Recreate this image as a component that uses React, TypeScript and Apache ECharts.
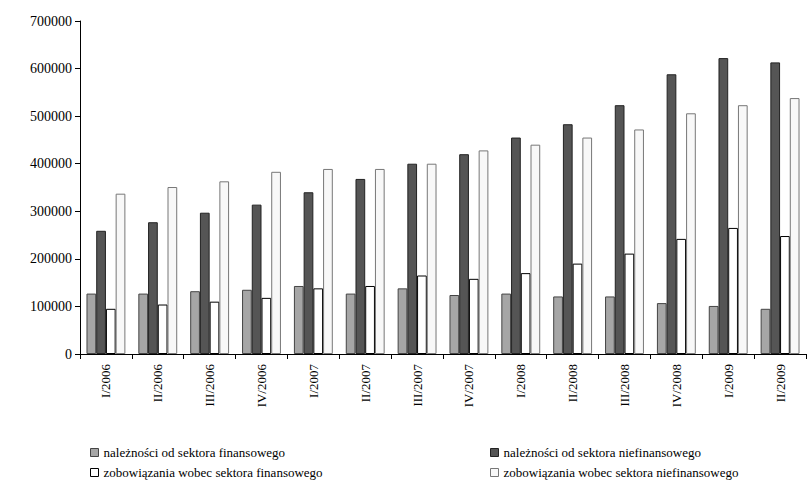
import React, { useRef, useEffect } from 'react'
import * as echarts from 'echarts'

const categories = ['I/2006', 'II/2006', 'III/2006', 'IV/2006', 'I/2007', 'II/2007', 'III/2007', 'IV/2007', 'I/2008', 'II/2008', 'III/2008', 'IV/2008', 'I/2009', 'II/2009']
const finReceivables = [127000, 127000, 132000, 135000, 143000, 127000, 138000, 124000, 127000, 121000, 121000, 107000, 101000, 95000]
const nonfinReceivables = [259000, 277000, 297000, 314000, 340000, 368000, 400000, 420000, 455000, 483000, 523000, 588000, 622000, 613000]
const finLiabilities = [95000, 104000, 110000, 118000, 138000, 143000, 165000, 158000, 170000, 190000, 211000, 242000, 265000, 248000]
const nonfinLiabilities = [337000, 351000, 363000, 383000, 389000, 389000, 400000, 428000, 440000, 455000, 472000, 506000, 523000, 538000]

const names = [
  'należności od sektora finansowego',
  'należności od sektora niefinansowego',
  'zobowiązania wobec sektora finansowego',
  'zobowiązania wobec sektora niefinansowego'
]

const font = '"Liberation Serif", "Times New Roman", serif'

const App: React.FC = () => {
  const chartRef = useRef<HTMLDivElement>(null)

  useEffect(() => {
    if (!chartRef.current) return
    const chart = echarts.init(chartRef.current, undefined, { renderer: 'svg' })
    const styles = [
      { color: '#a6a6a6', borderColor: '#444', borderWidth: 1 },
      { color: '#555555', borderColor: '#222', borderWidth: 1 },
      { color: '#ffffff', borderColor: '#000', borderWidth: 1 },
      { color: '#f8f8f8', borderColor: '#777', borderWidth: 1 }
    ]
    const data = [finReceivables, nonfinReceivables, finLiabilities, nonfinLiabilities]
    const legendPos = [
      { left: 85, top: 441 },
      { left: 485, top: 441 },
      { left: 85, top: 461 },
      { left: 485, top: 461 }
    ]
    chart.setOption({
      animation: false,
      textStyle: { fontFamily: font },
      grid: { left: 80, right: 1, top: 21, bottom: 130 },
      legend: legendPos.map((p, i) => ({
        ...p,
        data: [names[i]],
        itemWidth: 8,
        itemHeight: 8,
        icon: 'rect',
        itemStyle: { borderWidth: 1 },
        textStyle: { fontFamily: font, fontSize: 13, color: '#000' }
      })),
      xAxis: {
        type: 'category',
        data: categories,
        axisLine: { lineStyle: { color: '#000' } },
        axisTick: { show: true, length: 5, lineStyle: { color: '#000' } },
        axisLabel: { rotate: 90, fontFamily: font, fontSize: 13, color: '#000', margin: 10 }
      },
      yAxis: {
        type: 'value',
        min: 0,
        max: 700000,
        interval: 100000,
        axisLine: { show: true, lineStyle: { color: '#000' } },
        axisTick: { show: true, length: 5, lineStyle: { color: '#000' } },
        splitLine: { show: false },
        axisLabel: { fontFamily: font, fontSize: 14, color: '#000', formatter: (v: number) => String(v) }
      },
      series: data.map((d, i) => ({
        name: names[i],
        type: 'bar',
        data: d,
        barGap: '0%',
        barCategoryGap: '25%',
        itemStyle: styles[i]
      }))
    })
    return () => chart.dispose()
  }, [])

  return <div ref={chartRef} style={{ width: 807, height: 484, position: 'absolute', left: 0, top: 0 }} />
}

export default App
